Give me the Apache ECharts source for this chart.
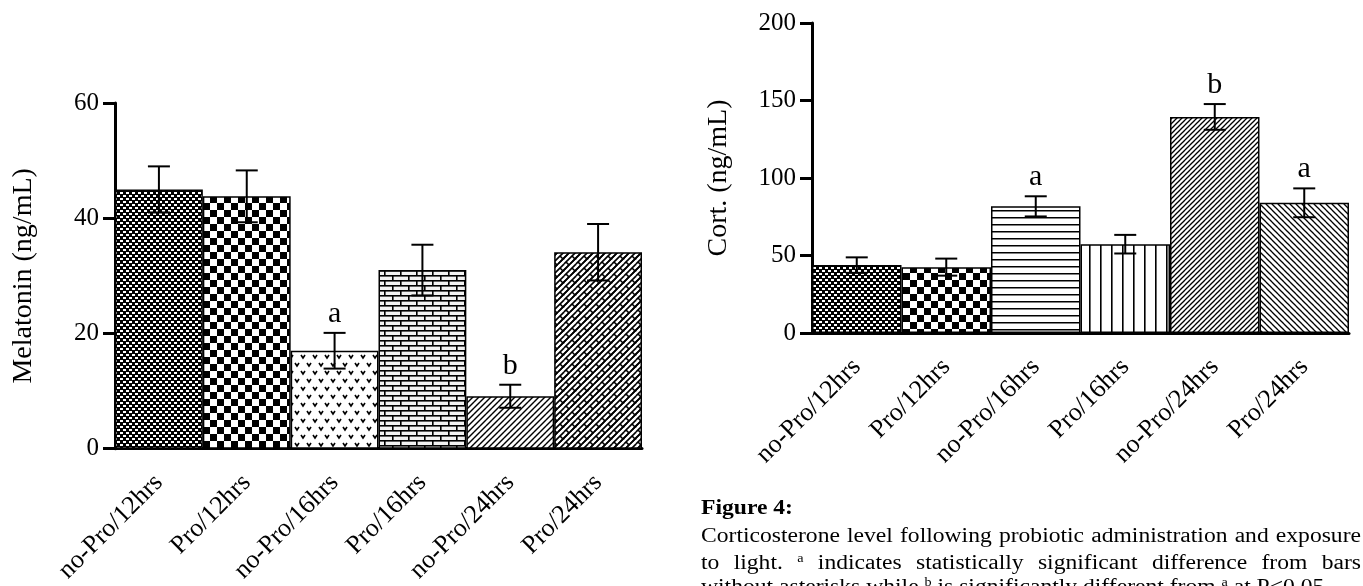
<!DOCTYPE html>
<html>
<head>
<meta charset="utf-8">
<title>Melatonin and corticosterone</title>
<script src="https://cdn.jsdelivr.net/npm/echarts@6/dist/echarts.min.js"></script>
<style>
  html, body { margin: 0; padding: 0; background: #fff; }
</style>
</head>
<body>
<div id="main" style="width: 1363px; height: 586px;"></div>
<script type="text/javascript">
// groups (same for both panels)
var groups = ['no-Pro/12hrs', 'Pro/12hrs', 'no-Pro/16hrs', 'Pro/16hrs', 'no-Pro/24hrs', 'Pro/24hrs'];

// left panel: melatonin (ng/mL), mean and error
var melMean = [45.0, 43.8, 17.0, 31.0, 9.1, 34.1];
var melErr = [4.0, 4.5, 3.1, 4.4, 2.0, 4.9];
var melSig = ['', '', 'a', '', 'b', ''];

// right panel: corticosterone (ng/mL), mean and error
var cortMean = [43.8, 42.5, 81.7, 57.3, 139.4, 84.0];
var cortErr = [5.0, 5.5, 6.5, 6.0, 8.3, 9.3];
var cortSig = ['', '', 'a', '', 'b', 'a'];

// axis ticks
var melAxis = { min: 0, max: 60, interval: 20 };
var cortAxis = { min: 0, max: 200, interval: 50 };

var FONT = '"Liberation Serif", "Times New Roman", serif';

// ---- hatch patterns drawn on small canvases ----
function tile(w, h, draw) {
    var c = document.createElement('canvas');
    c.width = w;
    c.height = h;
    var g = c.getContext('2d');
    g.fillStyle = '#fff';
    g.fillRect(0, 0, w, h);
    g.fillStyle = '#000';
    g.strokeStyle = '#000';
    draw(g, w, h);
    return { image: c, repeat: 'repeat' };
}
// draw the same thing at the 9 wrap-around offsets so the tile is seamless
function wrap(g, w, h, fn) {
    for (var dx = -w; dx <= w; dx += w) {
        for (var dy = -h; dy <= h; dy += h) {
            fn(dx, dy);
        }
    }
}
function seg(g, x1, y1, x2, y2) {
    g.beginPath();
    g.moveTo(x1, y1);
    g.lineTo(x2, y2);
    g.stroke();
}

var fineChecker = tile(6, 6, function (g) {
    g.fillRect(0, 0, 6, 6);
    g.fillStyle = '#fff';
    g.fillRect(0, 0, 3, 2);
    g.fillRect(3, 3, 3, 2);
});
var bigChecker = tile(14, 14, function (g) {
    g.fillRect(0, 0, 7, 7);
    g.fillRect(7, 7, 7, 7);
});
var vMarks = tile(12, 16, function (g) {
    g.lineWidth = 1.6;
    [[1, 3], [7, 11]].forEach(function (p) {
        g.beginPath();
        g.moveTo(p[0], p[1]);
        g.lineTo(p[0] + 2, p[1] + 3);
        g.lineTo(p[0] + 4, p[1]);
        g.stroke();
    });
});
var bricks = tile(16, 10, function (g) {
    g.fillStyle = '#f2f2f2';
    g.fillRect(0, 0, 16, 10);
    g.fillStyle = '#000';
    g.fillRect(0, 0, 16, 1.6);
    g.fillRect(0, 5, 16, 1.6);
    g.fillRect(0, 0, 1.6, 5);
    g.fillRect(8, 5, 1.6, 5);
});
var hLines = tile(4, 7, function (g) {
    g.fillRect(0, 0, 4, 1.5);
});
var vLines = tile(11, 4, function (g) {
    g.fillRect(0, 0, 1.6, 4);
});
function slash(size, lw) {
    return tile(size, size, function (g, w, h) {
        g.lineWidth = lw;
        wrap(g, w, h, function (dx, dy) {
            seg(g, dx, dy + h, dx + w, dy);
        });
    });
}
function backslash(size, lw) {
    return tile(size, size, function (g, w, h) {
        g.lineWidth = lw;
        wrap(g, w, h, function (dx, dy) {
            seg(g, dx, dy, dx + w, dy + h);
        });
    });
}
var diagBricks = tile(12, 12, function (g, w, h) {
    g.lineWidth = 1.6;
    wrap(g, w, h, function (dx, dy) {
        // long "/" rows
        seg(g, dx, dy + 12, dx + 12, dy);
        seg(g, dx - 6, dy + 12, dx + 6, dy);
        seg(g, dx + 6, dy + 12, dx + 18, dy);
        // short "\" joints, staggered
        seg(g, dx + 2, dy - 2, dx + 5, dy + 1);
        seg(g, dx + 8, dy + 4, dx + 11, dy + 7);
    });
});

var melPatterns = [fineChecker, bigChecker, vMarks, bricks, slash(6, 1.4), diagBricks];
var cortPatterns = [fineChecker, bigChecker, hLines, vLines, slash(5, 1.3), backslash(6, 1.3)];

// ---- error bars + significance letters ----
function errorRender(sig) {
    return function (params, api) {
        var idx = api.value(0);
        var top = api.coord([idx, api.value(1) + api.value(2)]);
        var bot = api.coord([idx, api.value(1) - api.value(2)]);
        var half = 11;
        var style = { stroke: '#000', lineWidth: 2 };
        var children = [
            { type: 'line', shape: { x1: top[0], y1: top[1], x2: bot[0], y2: bot[1] }, style: style },
            { type: 'line', shape: { x1: top[0] - half, y1: top[1], x2: top[0] + half, y2: top[1] }, style: style },
            { type: 'line', shape: { x1: bot[0] - half, y1: bot[1], x2: bot[0] + half, y2: bot[1] }, style: style }
        ];
        var letter = sig[params.dataIndex];
        if (letter) {
            children.push({
                type: 'text',
                style: {
                    text: letter, x: top[0], y: top[1] - 4,
                    align: 'center', verticalAlign: 'bottom',
                    font: '30px ' + FONT, fill: '#000'
                }
            });
        }
        return { type: 'group', children: children };
    };
}

function barData(mean, patterns) {
    return mean.map(function (v, i) {
        return { value: v, itemStyle: { color: patterns[i] } };
    });
}
function errData(mean, err) {
    return mean.map(function (v, i) { return [i, v, err[i]]; });
}

var axisLineStyle = { color: '#000', width: 3 };

function xAxisFor(gridIndex) {
    return {
        type: 'category',
        gridIndex: gridIndex,
        data: groups,
        axisLine: { lineStyle: axisLineStyle },
        axisTick: { alignWithLabel: true, length: 9, lineStyle: { width: 3, color: '#000' } },
        axisLabel: {
            rotate: 45, margin: 30, interval: 0,
            fontFamily: FONT, fontSize: 26, color: '#000'
        }
    };
}
function yAxisFor(gridIndex, ax, name, gap) {
    return {
        type: 'value',
        gridIndex: gridIndex,
        min: ax.min, max: ax.max, interval: ax.interval,
        name: name,
        nameLocation: 'middle',
        nameGap: gap,
        nameTextStyle: { fontFamily: FONT, fontSize: 28, color: '#000' },
        axisLine: { show: true, lineStyle: axisLineStyle },
        axisTick: { show: true, length: 12, lineStyle: { width: 3, color: '#000' } },
        axisLabel: { margin: 16, fontFamily: FONT, fontSize: 25, color: '#000' },
        splitLine: { show: false }
    };
}

// ---- caption (Figure 4) ----
var CAP_SIZE = 20, SUP_SIZE = 12, STRETCH = 1.18;
var capFont = CAP_SIZE + 'px ' + FONT;
var supFont = SUP_SIZE + 'px ' + FONT;
var capLeft = 701, capRight = 1361;
var measureCtx = document.createElement('canvas').getContext('2d');
function textWidth(t, font) {
    measureCtx.font = font;
    return measureCtx.measureText(t).width * STRETCH;
}
// text drawn with its top at y; the alphabetic baseline sits ~0.8em lower
function textAt(str, font, size, x, baseline) {
    return {
        type: 'text', x: x, y: baseline - 0.8 * size, scaleX: STRETCH,
        style: { text: str, font: font, fill: '#000', verticalAlign: 'top' }
    };
}
function captionLine(tokens, baseline, justify) {
    var widths = tokens.map(function (t) {
        return typeof t === 'string' ? textWidth(t, capFont) : textWidth(t.sup, supFont);
    });
    var total = widths.reduce(function (a, b) { return a + b; }, 0);
    var gap = justify ? (capRight - capLeft - total) / (tokens.length - 1) : textWidth(' ', capFont);
    var x = capLeft;
    return tokens.map(function (t, i) {
        var el = typeof t === 'string'
            ? textAt(t, capFont, CAP_SIZE, x, baseline)
            : textAt(t.sup, supFont, SUP_SIZE, x, baseline - 8);
        x += widths[i] + gap;
        return el;
    });
}
var capLine1 = ['Corticosterone', 'level', 'following', 'probiotic', 'administration', 'and', 'exposure'];
var capLine2 = ['to', 'light.', { sup: 'a' }, 'indicates', 'statistically', 'significant', 'difference', 'from', 'bars'];
var capLine3 = ['without', 'asterisks', 'while', { sup: 'b' }, 'is', 'significantly', 'different', 'from', { sup: 'a' }, 'at', 'P<0.05.'];

var caption = [textAt('Figure 4:', 'bold ' + CAP_SIZE + 'px ' + FONT, CAP_SIZE, capLeft, 515)].concat(
    captionLine(capLine1, 543, true),
    captionLine(capLine2, 570, true),
    captionLine(capLine3, 594, false)
);

var myChart = echarts.init(document.getElementById('main'), null, { renderer: 'canvas' });

var option = {
    animation: false,
    backgroundColor: '#fff',
    grid: [
        { left: 115, right: 721, top: 103, bottom: 135 },
        { left: 812, right: 14, top: 23, bottom: 253 }
    ],
    xAxis: [xAxisFor(0), xAxisFor(1)],
    yAxis: [
        yAxisFor(0, melAxis, 'Melatonin (ng/mL)', 77),
        yAxisFor(1, cortAxis, 'Cort. (ng/mL)', 79)
    ],
    graphic: caption,
    series: [{
        name: 'Melatonin',
        type: 'bar',
        xAxisIndex: 0, yAxisIndex: 0,
        barCategoryGap: 0,
        itemStyle: { borderColor: '#000', borderWidth: 1.5 },
        data: barData(melMean, melPatterns)
    }, {
        name: 'Melatonin error',
        type: 'custom',
        xAxisIndex: 0, yAxisIndex: 0,
        z: 5,
        renderItem: errorRender(melSig),
        data: errData(melMean, melErr)
    }, {
        name: 'Cort.',
        type: 'bar',
        xAxisIndex: 1, yAxisIndex: 1,
        barCategoryGap: 0,
        itemStyle: { borderColor: '#000', borderWidth: 1.5 },
        data: barData(cortMean, cortPatterns)
    }, {
        name: 'Cort. error',
        type: 'custom',
        xAxisIndex: 1, yAxisIndex: 1,
        z: 5,
        renderItem: errorRender(cortSig),
        data: errData(cortMean, cortErr)
    }]
};
myChart.setOption(option);
</script>
</body>
</html>
